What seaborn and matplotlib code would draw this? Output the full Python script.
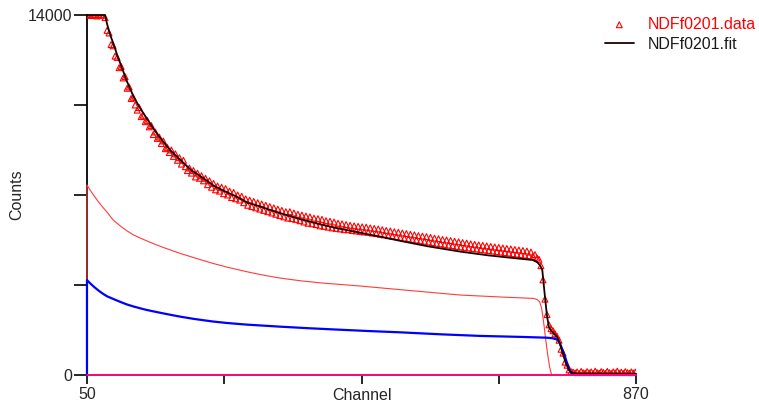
import numpy as np
import pandas as pd
import matplotlib
matplotlib.use('Agg')
import matplotlib.pyplot as plt
import seaborn as sns

# measured spectrum (every 3rd channel)
data_channel = list(range(50, 871, 3))
data_counts = [
    14000, 14000, 13980, 14000, 14000, 13960, 14000, 14000, 13990, 13900,
    13400, 13300, 12850, 12800, 12400, 12350, 11950, 12000, 11550, 11600,
    11150, 11200, 10750, 10800, 10500, 10300, 10400, 10050, 10100, 9850,
    9900, 9650, 9700, 9350, 9450, 9200, 9250, 9000, 9100, 8800,
    8850, 8650, 8750, 8500, 8600, 8350, 8450, 8200, 8350, 8100,
    7950, 8050, 7850, 7950, 7700, 7850, 7650, 7750, 7550, 7650,
    7400, 7550, 7300, 7450, 7200, 7350, 7150, 7300, 7050, 7250,
    7000, 7150, 6900, 7100, 6850, 7000, 6800, 6950, 6700, 6850,
    6600, 6800, 6550, 6750, 6500, 6700, 6450, 6650, 6400, 6600,
    6350, 6550, 6300, 6500, 6250, 6450, 6200, 6400, 6150, 6350,
    6100, 6350, 6080, 6300, 6050, 6250, 6000, 6220, 5950, 6180,
    5900, 6150, 5880, 6100, 5850, 6080, 5800, 6050, 5780, 6000,
    5750, 5980, 5720, 5950, 5700, 5900, 5680, 5880, 5650, 5850,
    5650, 5820, 5620, 5800, 5600, 5780, 5580, 5760, 5560, 5750,
    5550, 5720, 5520, 5700, 5500, 5680, 5470, 5650, 5450, 5620,
    5420, 5600, 5400, 5570, 5380, 5550, 5350, 5520, 5320, 5500,
    5300, 5470, 5270, 5450, 5250, 5420, 5220, 5400, 5200, 5380,
    5170, 5350, 5150, 5320, 5120, 5300, 5100, 5270, 5080, 5250,
    5050, 5230, 5030, 5200, 5000, 5180, 4980, 5150, 4960, 5130,
    4940, 5100, 4920, 5080, 4900, 5060, 4880, 5040, 4860, 5020,
    4840, 5000, 4820, 4980, 4800, 4960, 4780, 4940, 4760, 4920,
    4740, 4900, 4720, 4880, 4700, 4860, 4680, 4840, 4660, 4820,
    4640, 4780, 4620, 4680, 4550, 4500, 4250, 3700, 2950, 2350,
    1950, 1800, 1720, 1600, 1500, 1350, 1000, 850, 500, 380,
    200, 130, 110, 80, 120, 60, 140, 90, 70, 130,
    80, 120, 60, 150, 90, 70, 130, 100, 60, 140,
    90, 60, 120, 80, 150, 70, 110, 60, 130, 90,
    70, 120, 80, 110,
]

# total fit
fit_channel = [50, 77, 80, 85, 90, 95, 100, 105, 110, 120, 130, 140, 150, 160,
               174, 190, 205, 224, 240, 257, 274, 290, 308, 323, 340, 373, 400,
               423, 445, 468, 490, 517, 560, 607, 650, 690, 716, 722, 727, 730,
               734, 737, 740, 745, 752, 756, 759, 765, 770, 775, 780, 870]
fit_counts = [14000, 14000, 13650, 13200, 12850, 12450, 12100, 11750, 11400,
              10800, 10350, 9950, 9550, 9200, 8750, 8350, 7980, 7650, 7350, 7130,
              6930, 6700, 6560, 6420, 6280, 6030, 5850, 5710, 5600, 5480, 5370,
              5220, 5000, 4800, 4650, 4540, 4470, 4400, 4250, 4080, 3030, 2300,
              1850, 1670, 1480, 1250, 970, 470, 180, 90, 60, 50]

# component 1 (thin red)
comp1_channel = [50, 50, 55, 60, 65, 70, 75, 80, 89, 100, 110, 120, 130, 139, 150,
                 165, 189, 210, 238, 260, 288, 310, 338, 370, 400, 458, 530, 607,
                 670, 716, 722, 726, 729, 732, 735, 738, 741, 744, 870]
comp1_counts = [0, 7390, 7180, 6990, 6810, 6640, 6480, 6330, 6030, 5790, 5600,
                5440, 5320, 5220, 5100, 4950, 4730, 4560, 4340, 4190, 4020, 3900,
                3770, 3660, 3580, 3460, 3290, 3110, 3030, 2980, 2940, 2850, 2600,
                2050, 1400, 800, 300, 0, 0]

# component 2 (blue)
comp2_channel = [50, 50, 55, 60, 65, 70, 75, 80, 89, 100, 110, 120, 130, 139, 150,
                 165, 189, 210, 238, 260, 288, 338, 380, 420, 470, 517, 580, 637,
                 700, 737, 745, 750, 753, 756, 759, 762, 765, 768, 771, 774, 778, 870]
comp2_counts = [0, 3690, 3560, 3440, 3330, 3230, 3140, 3060, 2960, 2840, 2740,
                2660, 2590, 2530, 2470, 2390, 2270, 2180, 2080, 2020, 1960, 1880,
                1820, 1770, 1710, 1660, 1580, 1520, 1480, 1450, 1430, 1400, 1360,
                1250, 1050, 850, 620, 380, 180, 50, 0, 0]

# background
bg_channel = [50, 870]
bg_counts = [0, 0]

sns.set_style('ticks')
plt.rcParams['font.family'] = ['Liberation Sans', 'DejaVu Sans']

fig = plt.figure(figsize=(7.59, 4.03), dpi=100)
ax = fig.add_axes([0.1146, 0.0695, 0.7234, 0.8933])

sns.scatterplot(x=data_channel, y=data_counts, ax=ax, marker='^', s=18,
                facecolor='none', edgecolor='#ff0000', linewidth=0.8,
                label='NDFf0201.data', zorder=3)
sns.lineplot(x=comp1_channel, y=comp1_counts, ax=ax, color='#ff3b3b', lw=0.8,
             estimator=None, sort=False, zorder=4)
sns.lineplot(x=comp2_channel, y=comp2_counts, ax=ax, color='#0000ff', lw=1.6,
             estimator=None, sort=False, zorder=4)
sns.lineplot(x=fit_channel, y=fit_counts, ax=ax, color='#1a0000', lw=1.3,
             estimator=None, sort=False, label='NDFf0201.fit', zorder=5)
sns.lineplot(x=bg_channel, y=bg_counts, ax=ax, color='#ff0a78', lw=1.4,
             estimator=None, sort=False, zorder=6)
for ln in ax.lines:
    ln.set_clip_on(False)

ax.set_xlim(50, 870)
ax.set_ylim(0, 14000)
ax.set_xticks([50, 255, 460, 665, 870])
ax.set_xticklabels(['50', '', '', '', '870'])
ax.set_yticks([0, 3500, 7000, 10500, 14000])
ax.set_yticklabels(['0', '', '', '', '14000'])
ax.tick_params(axis='x', length=6.5, width=1.2, color='black', labelsize=11.5, pad=2)
ax.tick_params(axis='y', length=9.5, width=1.2, color='black', labelsize=11.5, pad=1)
for side in ['left', 'bottom']:
    ax.spines[side].set_linewidth(1.3)
    ax.spines[side].set_color('black')
sns.despine(ax=ax)

ax.set_xlabel('Channel', fontsize=11.5, labelpad=-10)
ax.set_ylabel('Counts', fontsize=11.5, labelpad=2.5)

handles, labels = ax.get_legend_handles_labels()
if ax.get_legend() is not None:
    ax.get_legend().remove()
leg = fig.legend(handles, labels, loc='upper left', bbox_to_anchor=(0.797, 0.958),
                 frameon=False, fontsize=11.5, handlelength=1.8, handletextpad=0.9,
                 labelspacing=0.3, borderpad=0, borderaxespad=0, scatterpoints=1)
for txt, col in zip(leg.get_texts(), ['#ff0000', '#1a1a1a']):
    txt.set_color(col)

fig.savefig('out.png', dpi=100)
